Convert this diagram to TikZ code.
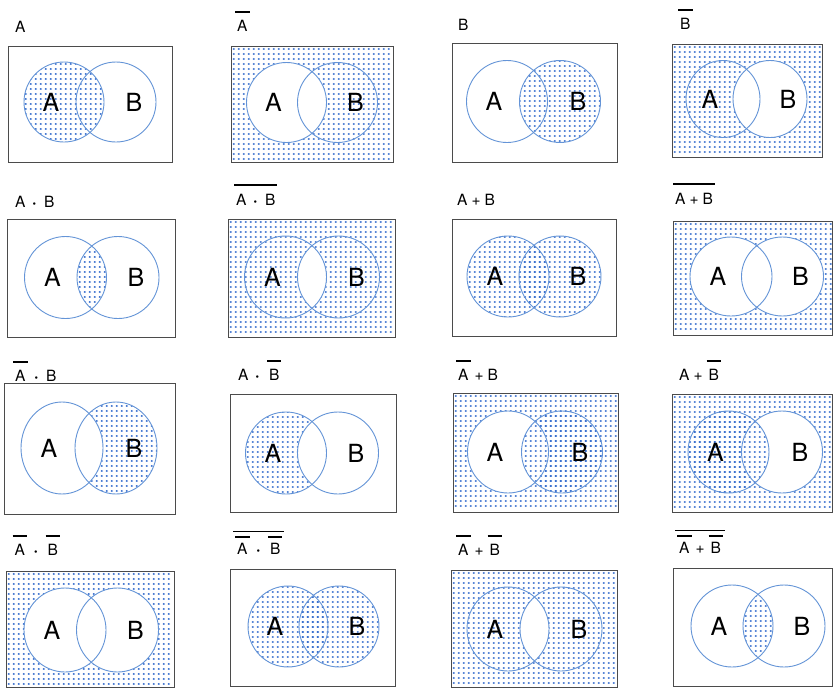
\documentclass[tikz,border=0pt]{standalone}
\usepackage{fontspec}
\setmainfont{TeX Gyre Heros}
\definecolor{dotc}{RGB}{52,108,205}
\definecolor{circc}{RGB}{100,148,215}
\definecolor{boxc}{RGB}{75,75,75}
\newcommand\ob[2][7pt]{\vbox{\hrule height 1.5pt\kern#1\hbox{\kern2pt#2\kern2pt}}}
\newcommand\bdot{\hspace{7pt}{\fontsize{10}{10}\selectfont\textbullet}\hspace{8pt}}
\newcommand\pls{\hspace{4pt}+\hspace{4pt}}
\def\dsp{5.0}
\newcommand\setpanel[9]{%
 \def\pxo{#1}\def\pyo{#2}\def\pxe{#3}\def\pye{#4}%
 \def\pcxa{#5}\def\pcxb{#6}\def\pcy{#7}\def\prx{#8}\def\pry{#9}%
 \pgfmathtruncatemacro\pnj{(#4-#2)/\dsp-1}%
}
\def\pathA{(\pcxa,\pcy) ellipse [x radius=\prx pt, y radius=\pry pt]}
\def\pathB{(\pcxb,\pcy) ellipse [x radius=\prx pt, y radius=\pry pt]}
\newcommand\dotgrid{\foreach \j in {0,...,\pnj} {\draw[dotline] (\pxo+\dsp/2+0.3, \pyo+\dsp/2+\dsp*\j+0.3) -- (\pxe-1, \pyo+\dsp/2+\dsp*\j+0.3);}}
\newcommand\shA{\begin{scope}\clip \pathA; \dotgrid\end{scope}}
\newcommand\shB{\begin{scope}\clip \pathB; \dotgrid\end{scope}}
\newcommand\shAB{\begin{scope}\clip \pathA; \clip \pathB; \dotgrid\end{scope}}
\newcommand\shU{\begin{scope}\clip (\pxo,\pyo) rectangle (\pxe,\pye); \dotgrid\end{scope}}
\newcommand\wA{\fill[white] \pathA;}
\newcommand\wB{\fill[white] \pathB;}
\newcommand\wAB{\begin{scope}\clip \pathA; \fill[white] \pathB;\end{scope}}
\newcommand\outl[1]{\draw[boxline] (\pxo,\pyo) rectangle (\pxe,\pye); \draw[circline] \pathA; \draw[circline] \pathB; \node[vletter] (#1a) at (\pcxa-13,\pcy) {A}; \node[vletter] (#1b) at (\pcxb+18,\pcy) {B};}
\begin{document}
\begin{tikzpicture}[x=1pt,y=-1pt,
 boxline/.style={draw=boxc,line width=0.9pt},
 circline/.style={draw=circc,line width=0.9pt},
 dotline/.style={draw=dotc,line width=2.4pt,line cap=round,dash pattern=on 0.01pt off 4.99pt},
 vletter/.style={font=\fontsize{25}{25}\selectfont,inner sep=0pt},
 lbl/.style={anchor=base west,inner sep=0pt,font=\fontsize{15.5}{16}\selectfont}]
\useasboundingbox[fill=white] (0,0) rectangle (833,688);
% Row 1
\setpanel{8}{46}{172}{162}{64}{116}{102}{40}{40}
\shA \outl{p1}
\node[lbl] (l1) at (15,32) {A};
\setpanel{231}{46}{393}{162}{286.5}{337.5}{102.5}{40}{40}
\shU \wA \outl{p2}
\node[lbl] (l2) at (235,31) {\ob{A}};
\setpanel{452}{43}{617}{162}{507}{560}{101.5}{40.5}{41}
\shB \outl{p3}
\node[lbl] (l3) at (458,30) {B};
\setpanel{672}{44}{822}{157}{723}{770}{99}{37}{38.5}
\shU \wB \outl{p4}
\node[lbl] (l4) at (678,29) {\ob{B}};
% Row 2
\setpanel{7}{219}{175}{337}{65.5}{118}{277.5}{41}{41}
\shAB \outl{p5}
\node[lbl] (l5) at (15,207) {A\bdot B};
\setpanel{228}{219}{395}{337}{285.5}{338.5}{277}{41}{41}
\shU \wAB \outl{p6}
\node[lbl] (l6) at (234,205) {\ob[8pt]{A\bdot B}};
\setpanel{452}{219}{616}{336}{508}{560}{276.5}{41}{40.5}
\shA \shB \outl{p7}
\node[lbl] (l7) at (457,205) {A\pls B};
\setpanel{673}{221}{832.5}{335}{731}{782.5}{276.5}{41}{39.5}
\shU \wA \wB \outl{p8}
\node[lbl] (l8) at (673,204) {\ob[8pt]{A\pls B}};
% Row 3
\setpanel{4}{383}{175}{514}{62}{116}{448}{41}{46}
\shB \wA \outl{p9}
\node[lbl] (l9) at (13,381) {\ob{A}\bdot B};
\setpanel{230}{394}{396}{512}{286}{338}{453}{40.5}{41}
\shA \wB \outl{p10}
\node[lbl] (l10) at (238,380) {A\bdot\ob{B}};
\setpanel{453}{393}{618}{512}{508}{562}{452}{40.5}{41}
\shU \wA \shB \outl{p11}
\node[lbl] (l11) at (456,380) {\ob{A}\pls B};
\setpanel{672}{394}{832.5}{512}{728.5}{782}{452}{40.5}{41}
\shU \wB \shA \outl{p12}
\node[lbl] (l12) at (679,380) {A\pls\ob{B}};
% Row 4
\setpanel{6}{571}{174}{687.5}{65}{117.5}{630}{41}{42}
\shU \wA \wB \outl{p13}
\node[lbl] (l13) at (12.5,555) {\ob{A}\bdot\ob{B}};
\setpanel{230}{569}{395}{686}{288}{339}{626.5}{40}{40.5}
\shA \shB \outl{p14}
\node[lbl] (l14) at (233,554) {\ob[4pt]{\ob[5pt]{A}\bdot\ob[5pt]{B}}};
\setpanel{451}{570}{617}{687}{508}{561}{629}{41}{42}
\shU \wAB \outl{p15}
\node[lbl] (l15) at (456,555) {\ob{A}\pls\ob{B}};
\setpanel{673}{568}{832.5}{686}{732}{784}{626}{41}{41}
\shAB \outl{p16}
\node[lbl] (l16) at (675,553) {\ob[4pt]{\ob[5pt]{A}\pls\ob[5pt]{B}}};
\end{tikzpicture}
\end{document}
